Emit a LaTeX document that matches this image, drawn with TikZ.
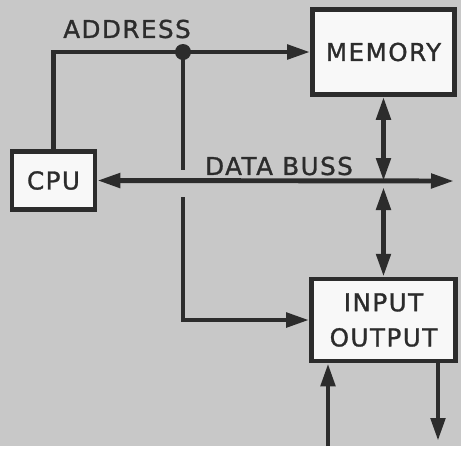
\documentclass[tikz,border=0pt]{standalone}
\usepackage{fontspec}
\newfontfamily\plotfont[LetterSpace=6, FakeBold=1.2]{DejaVu Sans}
\usetikzlibrary{arrows.meta, positioning}
\definecolor{paper}{HTML}{C8C8C8}
\definecolor{ink}{HTML}{2C2C2C}
\definecolor{boxfill}{HTML}{F8F8F8}
\tikzset{
  blk/.style={draw=ink, fill=boxfill, line width=2.6pt, inner sep=0pt,
              align=center, text=ink, font=\plotfont\fontsize{14}{20}\selectfont},
  wire/.style={draw=ink, line width=2.8pt},
  arrowto/.style={-{Triangle[length=0.46cm,width=0.28cm]}},
  arrowboth/.style={{Triangle[length=0.46cm,width=0.28cm]}-{Triangle[length=0.46cm,width=0.28cm]}},
  lbl/.style={text=ink, inner sep=0pt, font=\plotfont\fontsize{14}{17}\selectfont},
}
\begin{document}
\begin{tikzpicture}[x=0.02cm, y=-0.02cm]
    \fill[paper] (0,0) rectangle (461,446);
    % blocks
    \node[blk, minimum width=1.66cm, minimum height=1.16cm] (cpu) at (53.5,180.5) {CPU};
    \node[blk, minimum width=2.84cm, minimum height=1.7cm] (mem) at (383.5,52) {MEMORY};
    \node[blk, minimum width=2.88cm, minimum height=1.64cm,
          below=3.6cm of mem] (io) {INPUT\\OUTPUT};
    \node[lbl] (addrlbl) at (127,29) {ADDRESS};
    \node[lbl] (buslbl) at (279,166) {DATA BUSS};

    % address lines
    \coordinate (jn) at (183,52);
    \coordinate (gaptop) at (183,170);
    \coordinate (gapbot) at (183,197);
    \draw[wire, arrowto] (cpu.north) |- (jn) -- (mem.west);
    \fill[ink] (jn) circle (0.16cm);
    \draw[wire] (jn) -- (gaptop);
    \draw[wire, arrowto] (gapbot) |- (io.west);

    % data buss
    \coordinate (busend) at (454,181);
    \coordinate (tapm) at (mem.south |- busend);
    \draw[wire, arrowboth] (cpu.east) -- (busend);
    \draw[wire, arrowboth] (mem.south) -- (tapm);
    \draw[wire, arrowboth] ([yshift=-0.12cm]tapm) -- (io.north);

    % external i/o
    \coordinate (inpt) at (328,446);
    \coordinate (outpt) at (438,441);
    \draw[wire, arrowto] (inpt) -- (inpt |- io.south);
    \draw[wire, arrowto] (outpt |- io.south) -- (outpt);
\end{tikzpicture}
\end{document}
